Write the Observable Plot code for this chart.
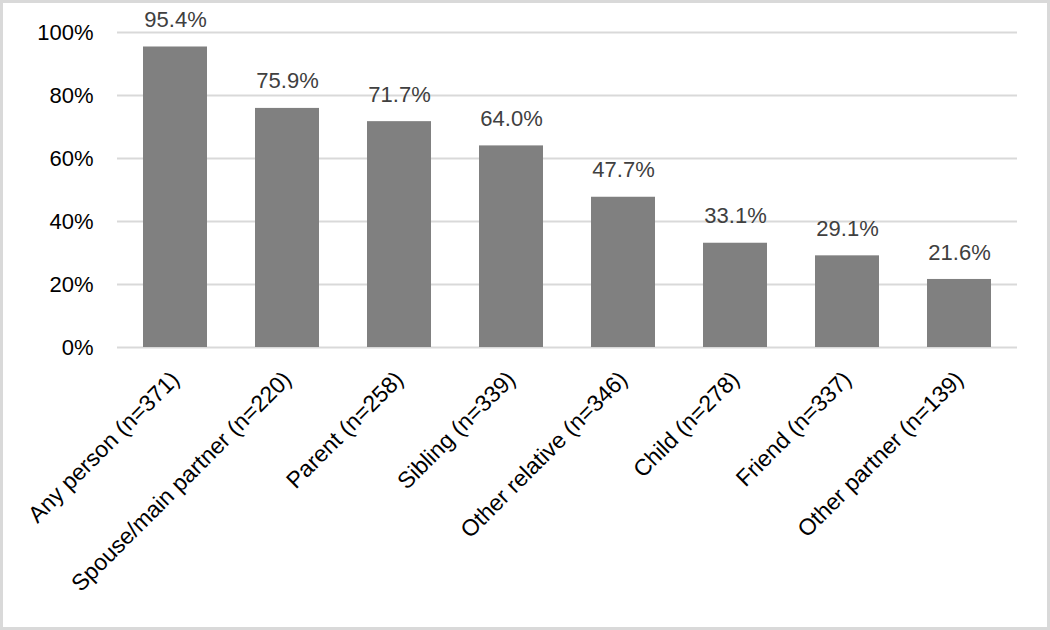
<!DOCTYPE html>
<html>
<head>
<meta charset="utf-8">
<script src="https://cdn.jsdelivr.net/npm/d3@7"></script>
<script src="https://cdn.jsdelivr.net/npm/@observablehq/plot@0.6"></script>
<style>
  html, body { margin: 0; padding: 0; background: #fff; }
  #wrap { position: relative; width: 1050px; height: 630px; }
  #frame { position: absolute; left: 0; top: 0; width: 1050px; height: 630px; box-sizing: border-box; border: 3px solid #d9d9d9; pointer-events: none; }
</style>
</head>
<body>
<div id="wrap"><div id="chart"></div><div id="frame"></div></div>
<script>
const categories = [
  "Any person (n=371)",
  "Spouse/main partner (n=220)",
  "Parent (n=258)",
  "Sibling (n=339)",
  "Other relative (n=346)",
  "Child (n=278)",
  "Friend (n=337)",
  "Other partner (n=139)"
];
const values = [95.4, 75.9, 71.7, 64.0, 47.7, 33.1, 29.1, 21.6];
const yTicks = [0, 20, 40, 60, 80, 100];

const data = categories.map((c, i) => ({category: c, value: values[i]}));

const chart = Plot.plot({
  width: 1050,
  height: 630,
  marginLeft: 117,
  marginRight: 33,
  marginTop: 32,
  marginBottom: 283,
  style: {fontFamily: "Liberation Sans, Arial, sans-serif", fontSize: "22px", background: "transparent", overflow: "visible"},
  x: {domain: categories, paddingInner: 0.43, paddingOuter: 0.215, label: null},
  y: {domain: [0, 100], label: null},
  marks: [
    Plot.gridY(yTicks, {stroke: "#d9d9d9", strokeOpacity: 1, strokeWidth: 2}),
    Plot.barY(data, {x: "category", y: "value", fill: "#808080"}),
    Plot.text(data, {x: "category", y: "value", text: d => d.value.toFixed(1) + "%", dy: -27, fill: "#404040", fontSize: 22}),
    Plot.axisY(yTicks, {tickSize: 0, tickPadding: 24, tickFormat: d => d + "%", fill: "#000", fontSize: 22, label: null}),
    Plot.axisX({tickSize: 0, tickPadding: 28, tickRotate: -45, fill: "#000", fontSize: 23, label: null})
  ]
});
document.getElementById("chart").appendChild(chart);
</script>
</body>
</html>
